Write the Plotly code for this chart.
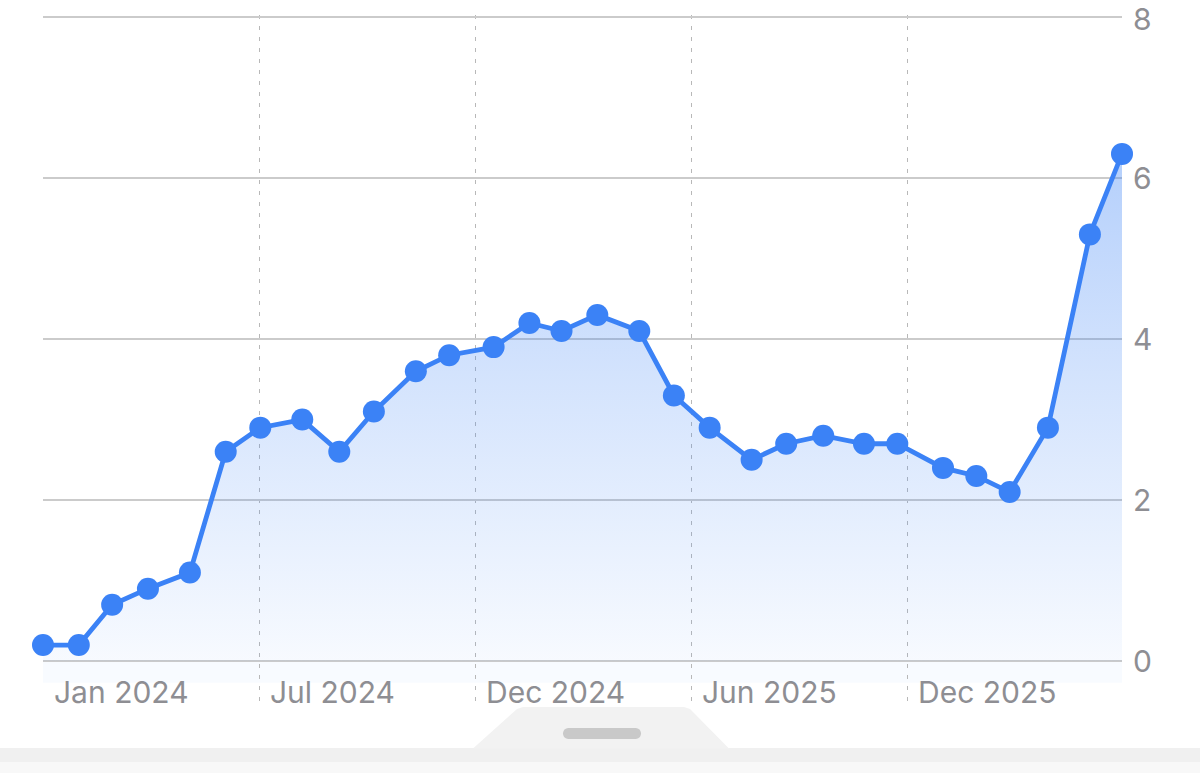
import math
import plotly.graph_objects as go

# ---- data ----
dates = ["2024-01-10", "2024-02-08", "2024-03-06", "2024-04-04", "2024-05-08",
         "2024-06-06", "2024-07-04", "2024-08-07", "2024-09-06", "2024-10-04",
         "2024-11-07", "2024-12-04", "2025-01-09", "2025-02-07", "2025-03-05",
         "2025-04-03", "2025-05-07", "2025-06-04", "2025-07-03", "2025-08-06",
         "2025-09-03", "2025-10-03", "2025-11-05", "2025-12-02", "2026-01-08",
         "2026-02-04", "2026-03-03", "2026-04-03", "2026-05-07", "2026-06-02"]
values = [0.2, 0.2, 0.7, 0.9, 1.1, 2.6, 2.9, 3.0, 2.6, 3.1,
          3.6, 3.8, 3.9, 4.2, 4.1, 4.3, 4.1, 3.3, 2.9, 2.5,
          2.7, 2.8, 2.7, 2.7, 2.4, 2.3, 2.1, 2.9, 5.3, 6.3]
tick_dates = ["2024-01-10", "2024-07-03", "2024-12-25", "2025-06-18", "2025-12-10"]
tick_labels = ["Jan 2024", "Jul 2024", "Dec 2024", "Jun 2025", "Dec 2025"]
y_ticks = [0, 2, 4, 6, 8]
y_labels = ["0", "2", "4", "6", "8"]

# ---- layout constants (body margin removed via post_script) ----
W, H = 1200, 773
ML, MT = 43, 15
MR = W - 1122
MB = H - 703
PW, PH = W - ML - MR, H - MT - MB
BLUE = "#3b82f6"
GRAY_TXT = "#8e8e93"
FONT = "Inter"


def px(x):
    return (x - ML) / PW


def py(y):
    return (H - MB - y) / PH


def path_from(points):
    return "M " + " L ".join(f"{px(a):.5f},{py(b):.5f}" for a, b in points) + " Z"


fig = go.Figure()

fig.add_trace(go.Scatter(
    x=dates, y=values, mode="lines+markers",
    line=dict(color=BLUE, width=4.8),
    marker=dict(color=BLUE, size=22),
    fill="tozeroy",
    fillgradient=dict(type="vertical", start=0, stop=7,
                      colorscale=[[0, "rgba(59,130,246,0.04)"],
                                  [0.5, "rgba(59,130,246,0.22)"],
                                  [1, "rgba(59,130,246,0.42)"]]),
    cliponaxis=False, hoverinfo="skip", showlegend=False,
))

annotations = []
for d, t in zip(tick_dates, tick_labels):
    annotations.append(dict(
        x=d, xref="x", y=-0.385, yref="y", text=t, showarrow=False,
        xanchor="left", yanchor="middle", xshift=9,
        font=dict(family=FONT, size=30, color=GRAY_TXT),
    ))
# right-hand value labels (top one nudged so its box stays inside the page)
for v, t in zip(y_ticks, y_labels):
    annotations.append(dict(
        x=1, xref="paper", y=v, yref="y", text=t, showarrow=False,
        xanchor="left", yanchor="middle", xshift=9, yshift=-2 if v == y_ticks[-1] else 0,
        font=dict(family=FONT, size=30, color=GRAY_TXT),
    ))

# handle pill (rounded)
pill = []
cx0, cx1, cy, r = 568.5, 635.5, 733.5, 5.5
for i in range(13):
    a = math.pi / 2 + math.pi * i / 12
    pill.append((cx0 + r * math.cos(a), cy - r * math.sin(a)))
for i in range(13):
    a = -math.pi / 2 + math.pi * i / 12
    pill.append((cx1 + r * math.cos(a), cy - r * math.sin(a)))

shapes = [
    # faint fill below zero line
    dict(type="rect", xref="x", yref="y", x0=dates[0], x1=dates[-1], y0=-0.27, y1=0,
         fillcolor="rgba(59,130,246,0.035)", line=dict(width=0), layer="below"),
    # bottom band
    dict(type="rect", xref="paper", yref="paper", x0=px(0), x1=px(1200), y0=py(762), y1=py(748),
         fillcolor="#f0f0f0", line=dict(width=0)),
    dict(type="rect", xref="paper", yref="paper", x0=px(0), x1=px(1200), y0=py(773), y1=py(762),
         fillcolor="#f8f8f8", line=dict(width=0)),
    # tab
    dict(type="path", xref="paper", yref="paper",
         path=path_from([(473, 748.5), (517, 709), (523, 707), (684, 707), (690, 709), (729, 748.5)]),
         fillcolor="#f2f2f2", line=dict(width=0)),
    dict(type="path", xref="paper", yref="paper", path=path_from(pill),
         fillcolor="#c9c9c9", line=dict(width=0)),
]

fig.update_layout(
    width=W, height=H,
    margin=dict(l=ML, r=MR, t=MT, b=MB, pad=0, autoexpand=False),
    paper_bgcolor="white", plot_bgcolor="white",
    font=dict(family=FONT, color=GRAY_TXT),
    xaxis=dict(type="date", range=[dates[0], dates[-1]],
               tickvals=tick_dates, ticktext=tick_labels, showticklabels=False,
               showgrid=True, gridcolor="#b8b8b8", gridwidth=1, griddash="4px,7px",
               zeroline=False, showline=False, ticks="", automargin=False),
    yaxis=dict(side="right", range=[-0.52, 8.025], tickvals=y_ticks,
               showticklabels=False,
               showgrid=True, gridcolor="#cbcbcb", gridwidth=1.3,
               zeroline=False, showline=False, ticks="", automargin=False),
    annotations=annotations,
    shapes=shapes,
    hovermode=False,
)

fig.write_html("out.html",
               config={"displayModeBar": False, "staticPlot": True},
               post_script="document.body.style.margin='0';document.body.style.overflow='hidden';")
